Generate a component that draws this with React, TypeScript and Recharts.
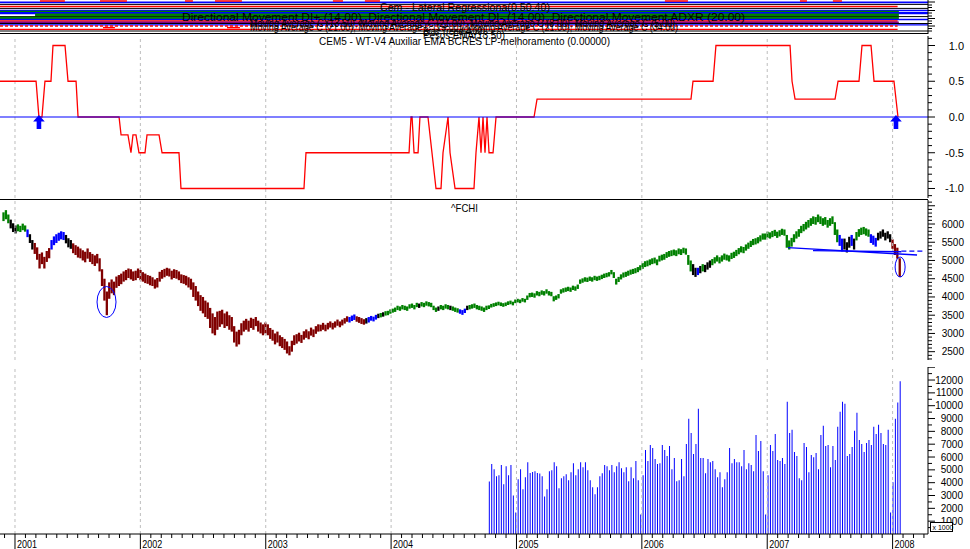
import React from 'react';
import { ComposedChart, Bar, Line, XAxis, YAxis, ReferenceLine, ReferenceDot } from 'recharts';

const FONT = '"Liberation Sans", Arial, Helvetica, sans-serif';
const CHART_W = 970;
const AXIS_W = 42;
const AXIS_X = CHART_W - AXIS_W;
const X_DOMAIN: [number, number] = [2000.8804, 2008.2824];
const WEEK = 7 / 365.25;

// ---------- x axis ----------
const yearTicks = [2001, 2002, 2003, 2004, 2005, 2006, 2007, 2008];
const yearLabels = ['2001', '2002', '2003', '2004', '2005', '2006', '2007', '2008'];

// ---------- ^FCHI weekly bars [low, high] ----------
const PRICE_START = 2000.91;
const priceW2001: [number, number][] = [
  [6080,6320],[6130,6380],[6020,6260],[5880,6120],[5780,6020],[5740,5960],[5800,5990],[5780,5950],[5830,6010],[5790,5960],
  [5640,5850],[5480,5720],[5300,5560],[5180,5480],[5020,5360],[4780,5180],[4900,5220],[4780,5100],[4960,5260],[5060,5340],
  [5300,5560],[5420,5660],[5480,5720],[5540,5760],[5580,5800],[5560,5780],[5470,5700],[5360,5610],[5320,5560],[5200,5470],
  [5150,5420],[5080,5380],[5060,5330],[5000,5280],[4950,5240],[5050,5330],[4960,5230],[4900,5180],[4850,5140],[4920,5180],
  [4700,5060],[4300,4760],[3900,4500],[3500,4150],[3950,4400],[4100,4480],[4050,4420],[4250,4560],[4300,4600],[4350,4640],
  [4420,4700],[4460,4740],[4520,4780],[4480,4760],[4440,4700],[4460,4720],[4520,4780],
];
const priceW2002: [number, number][] = [
  [4460,4740],[4420,4680],[4380,4640],[4360,4600],[4320,4580],[4300,4540],[4230,4480],[4260,4520],[4420,4690],
  [4500,4740],[4540,4770],[4580,4800],[4560,4780],[4480,4720],[4520,4760],[4500,4740],[4460,4700],
  [4380,4620],[4360,4600],[4320,4580],[4260,4540],[4200,4500],
  [4000,4400],[3900,4300],[3750,4150],[3620,4050],[3550,4000],[3450,3900],[3400,3850],
  [3150,3700],[3000,3550],[2950,3450],[3100,3600],[3180,3620],
  [3250,3650],[3150,3550],[3200,3600],[3100,3500],[3050,3450],
  [2750,3200],[2640,3050],[2700,3100],
  [2950,3280],[3050,3350],[3100,3400],[3050,3350],[3150,3430],[3100,3400],[3200,3450],
  [3050,3350],[3000,3300],[2950,3250],
];
const priceW2003: [number, number][] = [
  [3000,3300],
  [2950,3250],[2850,3150],[2800,3100],[2700,3000],[2750,3050],[2650,2950],[2600,2900],[2550,2850],
  [2450,2780],[2400,2650],[2500,2800],
  [2680,2950],[2720,2980],[2780,3020],[2740,2960],[2830,3060],[2880,3110],[2840,3060],[2940,3160],[2900,3110],[2990,3200],
  [3050,3250],[3060,3240],[3100,3290],[3060,3240],[3110,3290],[3160,3330],[3110,3290],[3160,3330],[3210,3380],[3170,3330],[3220,3380],[3270,3420],
  [3320,3470],[3300,3450],[3340,3490],[3370,3520],[3320,3470],[3290,3450],[3260,3420],
  [3240,3390],[3270,3420],[3300,3450],[3350,3480],[3330,3460],[3380,3510],
  [3420,3540],[3440,3560],[3460,3580],[3490,3610],[3500,3620],
];
const priceW2004: [number, number][] = [
  [3540,3660],
  [3570,3680],[3590,3710],[3640,3760],[3620,3740],[3660,3780],[3640,3760],[3620,3740],[3680,3800],[3700,3820],[3660,3780],
  [3720,3840],[3700,3820],[3740,3860],[3720,3840],[3760,3880],[3740,3860],[3720,3840],
  [3640,3760],[3590,3710],[3620,3740],[3660,3780],[3640,3760],[3680,3800],[3660,3780],[3640,3760],[3620,3740],[3590,3710],
  [3570,3690],[3540,3660],[3510,3640],[3560,3680],
  [3640,3760],[3660,3780],[3680,3800],[3700,3820],[3660,3780],[3640,3760],[3620,3740],[3590,3710],[3640,3760],
  [3670,3770],[3710,3810],[3730,3830],[3750,3850],[3770,3870],[3750,3850],[3730,3830],[3750,3850],[3780,3880],[3800,3900],[3770,3870],
];
const priceW2005: [number, number][] = [
  [3830,3930],
  [3850,3950],[3830,3930],[3870,3970],[3850,3950],
  [3920,4040],[3990,4110],[4000,4120],[3980,4100],[4040,4160],[4020,4140],[4060,4180],[4040,4160],[4090,4210],[4040,4160],[4020,4140],
  [3880,4020],[3920,4040],[3960,4080],
  [4090,4210],[4120,4240],[4140,4260],[4160,4280],[4140,4260],[4190,4310],[4170,4290],[4220,4340],
  [4360,4480],[4390,4510],[4420,4540],[4410,4530],[4440,4560],[4420,4540],[4460,4580],
  [4440,4560],[4460,4580],[4490,4610],[4520,4640],[4540,4660],[4560,4680],[4620,4740],[4520,4680],[4340,4500],
  [4410,4550],[4480,4620],[4530,4670],[4550,4690],[4580,4720],[4610,4750],[4630,4770],[4650,4790],[4680,4820],
];
const priceW2006: [number, number][] = [
  [4730,4870],
  [4770,4930],[4820,4980],[4840,5000],[4870,5030],[4900,5060],[4920,5080],[4870,5030],[4970,5130],[5000,5160],[5020,5180],
  [5070,5230],[5100,5260],[5120,5280],[5140,5300],[5120,5280],[5170,5330],[5150,5310],[5200,5350],[5160,5330],
  [4880,5150],[4700,5000],[4600,4900],[4550,4800],[4600,4800],[4650,4850],[4700,4900],[4680,4880],[4750,4950],[4800,5000],
  [4870,5040],[4920,5090],[4970,5140],[4920,5090],[4970,5140],[5020,5190],[5000,5160],[4970,5140],[5040,5210],[5070,5240],
  [5120,5290],[5170,5340],[5220,5390],[5200,5370],[5270,5440],[5320,5490],[5370,5540],[5420,5590],[5440,5610],[5470,5640],[5520,5690],[5570,5740],
];
const priceW2007: [number, number][] = [
  [5570,5740],[5620,5790],[5600,5770],[5640,5810],[5670,5840],[5620,5790],[5660,5830],[5700,5870],[5680,5850],
  [5350,5700],[5300,5550],
  [5380,5620],[5500,5720],[5600,5800],[5650,5860],[5750,5950],[5800,6000],[5850,6060],[5900,6110],
  [5950,6160],[6000,6210],[5980,6190],[6050,6260],[6000,6210],[5950,6160],[5980,6190],[5900,6110],[5950,6160],[6000,6210],
  [5700,6050],[5500,5850],[5400,5700],
  [5250,5600],[5300,5600],[5220,5500],[5350,5650],[5400,5700],[5300,5600],
  [5550,5780],[5650,5860],[5700,5900],[5720,5920],[5680,5880],[5650,5850],
  [5480,5720],[5430,5680],[5380,5620],
  [5550,5760],[5600,5800],[5650,5850],[5550,5760],[5600,5800],[5500,5720],
  [5320,5580],[5150,5450],
  [5050,5350],[4550,5060],
];
// signal state per week: [first week index, state]
const priceStateRuns: [number, string][] = [
  [0,'g'],[3,'k'],[6,'g'],[10,'b'],[11,'k'],[13,'r'],[20,'b'],[26,'k'],[29,'r'],[144,'b'],[147,'r'],[151,'k'],[152,'b'],
  [156,'k'],[157,'g'],[158,'k'],[159,'g'],[173,'k'],[174,'g'],[181,'k'],[182,'g'],[186,'k'],[187,'g'],[190,'b'],[193,'k'],
  [194,'g'],[287,'k'],[289,'b'],[290,'k'],[291,'g'],[292,'k'],[295,'g'],[348,'b'],[350,'k'],[353,'b'],[354,'k'],[355,'g'],
  [361,'b'],[364,'k'],[370,'r'],
];
const STATE_COLORS: Record<string, string> = { g: '#008000', k: '#000000', b: '#0000FF', r: '#800000' };

// ---------- volume (weekly, axis units) ----------
const VOL_START = 2004.781;
const vol2004 = [4100,5450,5050,4500,4580,5370,3870,5290,4580,5370,3000,1680];
const vol2005 = [4270,5050,3480,4420,5600,4760,4840,4900,4760,4710,4500,2930,3480,4900,4970,5600,5290,3560,4350,4500,4660,4190,4820,5520,4580,5050,5600,5210,5600,4970,4190,3640,3090,3640,4500,4740,5370,5290,4970,5370,4820,5290,5600,5130,4820,5210,4110,5210,4350,5680,4190,1520];
const vol2006 = [4580,6540,5680,6940,6700,5840,5450,5520,6940,6540,6070,6860,5050,5920,4110,4190,5840,4500,7020,8980,7880,6230,7020,9760,5920,5920,4740,5840,5600,5680,5050,4420,4820,3640,4270,4820,6700,5520,5840,5600,5600,5290,6540,5050,5520,5370,4900,7720,6470,7250,4900,1520];
const vol2007 = [4580,6940,6470,7800,5760,5680,5920,5450,10300,7880,8120,6390,6070,4350,4190,7090,6780,4820,6150,5990,6310,5050,7720,8430,6860,6940,5210,6860,5760,8350,9530,10300,10160,6070,6230,6780,8040,9450,7330,7020,6390,7090,7330,6940,8350,7800,8510,7880,7020,6940,8120,1680];
const vol2008 = [4030,8980,10240,11900];

// ---------- CEM5 indicator vertices [time, value] ----------
const cemPoints: [number, number][] = [
  [2000.880,0.5],[2001.168,0.5],[2001.191,0],[2001.215,0],[2001.239,0.5],[2001.287,0.5],[2001.303,1],[2001.399,1],
  [2001.423,0.5],[2001.487,0.5],[2001.503,0],[2001.830,0],[2001.846,-0.25],[2001.901,-0.25],[2001.925,-0.5],[2001.941,-0.25],
  [2001.965,-0.25],[2001.989,-0.5],[2002.037,-0.5],[2002.053,-0.25],[2002.149,-0.25],[2002.173,-0.5],[2002.308,-0.5],[2002.324,-1],
  [2003.305,-1],[2003.321,-0.5],[2004.143,-0.5],[2004.159,0],[2004.167,0],[2004.183,-0.5],[2004.215,-0.5],[2004.230,0],
  [2004.294,0],[2004.326,-0.5],[2004.358,-1],[2004.398,-1],[2004.414,-0.5],[2004.454,0],[2004.470,-0.5],[2004.510,-1],
  [2004.661,-1],[2004.677,-0.5],[2004.701,0],[2004.717,-0.5],[2004.733,0],[2004.749,-0.5],[2004.765,0],[2004.781,-0.5],
  [2004.813,-0.5],[2004.837,0],[2005.140,0],[2005.164,0.25],[2006.392,0.25],[2006.408,0.5],[2006.568,0.5],[2006.591,1],
  [2007.182,1],[2007.198,0.5],[2007.222,0.25],[2007.541,0.25],[2007.565,0.5],[2007.732,0.5],[2007.756,1],[2007.828,1],
  [2007.852,0.5],[2008.011,0.5],[2008.043,0],
];
const cemTickValues = [-1, -0.5, 0, 0.5, 1];
const cemTickLabels = ['-1.0', '-0.5', '0.0', '0.5', '1.0'];
const signalArrows = [2001.191, 2008.027];

// ---------- price annotations ----------
const priceEllipses = [
  { t: 2001.730, p: 3862, rx: 9.5, ry: 15.5 },
  { t: 2008.060, p: 4821, rx: 5, ry: 10 },
];
const trendLines = [
  { a: [2007.166, 5350], b: [2008.195, 5150], dash: '' },
  { a: [2007.365, 5268], b: [2008.070, 5240], dash: '' },
  { a: [2008.070, 5255], b: [2008.262, 5258], dash: '5 3' },
];

// ---------- top overlay panel (compressed indicator lines) ----------
const X0 = X_DOMAIN[0];
const X1 = X_DOMAIN[1];
const overlayLines = [
  { lvl: 2.4, c: '#0000FF', w: 1.8, a: X0, b: X1, d: '' },
  { lvl: 4.4, c: '#000000', w: 1, a: X0, b: X1, d: '' },
  { lvl: 6.4, c: '#FF0000', w: 1.5, a: X0, b: 2008.04, d: '' },
  { lvl: 8.4, c: '#000000', w: 1, a: X0, b: X1, d: '' },
  { lvl: 10.4, c: '#0000FF', w: 1.5, a: X0, b: X1, d: '' },
  { lvl: 11.8, c: '#008000', w: 2, a: X0, b: 2008.05, d: '' },
  { lvl: 13.1, c: '#0000FF', w: 2.2, a: X0, b: X1, d: '' },
  { lvl: 15.0, c: '#008000', w: 3, a: 2001.16, b: 2008.05, d: '' },
  { lvl: 16.6, c: '#000000', w: 1, a: X0, b: X1, d: '' },
  { lvl: 18.0, c: '#008000', w: 2.4, a: X0, b: 2008.05, d: '' },
  { lvl: 19.5, c: '#0000FF', w: 1.5, a: X0, b: X1, d: '' },
  { lvl: 21.0, c: '#FF0000', w: 1.3, a: X0, b: 2008.04, d: '' },
  { lvl: 22.3, c: '#800080', w: 1.5, a: X0, b: 2008.05, d: '' },
  { lvl: 23.5, c: '#000000', w: 1, a: X0, b: X1, d: '' },
  { lvl: 24.8, c: '#0000FF', w: 1.3, a: X0, b: X1, d: '' },
  { lvl: 26.0, c: '#FF0000', w: 1.3, a: X0, b: 2008.04, d: '3 2' },
  { lvl: 29.4, c: '#FF0000', w: 1.3, a: X0, b: 2008.04, d: '' },
  { lvl: 31.0, c: '#000000', w: 1, a: X0, b: X1, d: '' },
];
const overlaySegments = [
  { lvl: 1.0, a: 2000.880, b: 2000.936 }, { lvl: 1.0, a: 2001.199, b: 2001.398 }, { lvl: 1.0, a: 2001.678, b: 2001.893 },
  { lvl: 1.0, a: 2002.356, b: 2002.419 }, { lvl: 1.0, a: 2002.595, b: 2002.810 }, { lvl: 1.0, a: 2003.536, b: 2003.616 },
  { lvl: 1.0, a: 2003.791, b: 2003.911 }, { lvl: 1.0, a: 2006.184, b: 2006.368 }, { lvl: 1.0, a: 2007.261, b: 2007.317 },
  { lvl: 1.0, a: 2007.524, b: 2007.596 }, { lvl: 27.6, a: 2001.702, b: 2001.797 }, { lvl: 27.6, a: 2002.691, b: 2002.794 },
];
const topTicks = [2, 5, 7.5, 10.5, 13, 16, 18.5, 21, 23.5, 26, 28.5, 31];

// ---------- rows ----------
const priceWeeks = [...priceW2001, ...priceW2002, ...priceW2003, ...priceW2004, ...priceW2005, ...priceW2006, ...priceW2007];
const stateAt = (i: number) => {
  let s = 'g';
  for (const [start, st] of priceStateRuns) if (i >= start) s = st;
  return s;
};
const priceRows = priceWeeks.map((r, i) => ({ t: PRICE_START + i * WEEK, range: r, state: stateAt(i) }));
const volWeeks = [...vol2004, ...vol2005, ...vol2006, ...vol2007, ...vol2008];
const volRows = volWeeks.map((v, i) => ({ t: VOL_START + i * WEEK, v }));
const cemRows = cemPoints.map(([t, v]) => ({ t, v }));
const topRows = [{ t: X0 }, { t: X1 }];

const priceTicks: number[] = [];
for (let v = 2300; v <= 6600; v += 100) priceTicks.push(v);
const volTicks: number[] = [];
for (let v = 500; v <= 13000; v += 500) volTicks.push(v);
const cemTicks: number[] = [];
for (let k = -11; k <= 11; k++) cemTicks.push(k / 10);
const monthTicks: number[] = [];
for (let y = 2000; y <= 2008; y++) for (let m = 0; m < 12; m++) {
  const t = y + m / 12;
  if (t >= X0 && t <= X1) monthTicks.push(t);
}

// ---------- tick renderers ----------
const tickLine = (y: number, len: number) => (
  <line x1={AXIS_X} x2={AXIS_X + len} y1={y} y2={y} stroke="#000" strokeWidth={1} />
);
const PriceTick = (p: any) => {
  const v = p.payload.value;
  const major = v % 500 === 0;
  return (
    <g>
      {tickLine(p.y, major ? 7 : 4)}
      {major && v >= 2500 && v <= 6000 && (
        <text x={964} y={p.y + 3.5} textAnchor="end" fontSize={10} fontFamily={FONT} fill="#000">{v}</text>
      )}
    </g>
  );
};
const VolTick = (p: any) => {
  const v = p.payload.value;
  const major = v % 1000 === 0;
  return (
    <g>
      {tickLine(p.y, major ? 7 : 4)}
      {major && v <= 12000 && (
        <text x={963} y={p.y + 3.5} textAnchor="end" fontSize={10} fontFamily={FONT} fill="#000">{v}</text>
      )}
    </g>
  );
};
const CemTick = (p: any) => {
  const v = p.payload.value;
  const idx = cemTickValues.findIndex((c) => Math.abs(c - v) < 1e-6);
  return (
    <g>
      {tickLine(p.y, idx >= 0 ? 7 : 4)}
      {idx >= 0 && (
        <text x={964} y={p.y + 4} textAnchor="end" fontSize={11} fontFamily={FONT} fill="#000">{cemTickLabels[idx]}</text>
      )}
    </g>
  );
};
const TopTick = (p: any) => {
  const i = topTicks.indexOf(p.payload.value);
  return tickLine(p.y, i % 3 === 0 ? 7 : 4);
};
const VOL_AXIS_Y = 167;
const XTick = (p: any) => {
  const v = p.payload.value;
  const yi = yearTicks.findIndex((y) => Math.abs(y - v) < 1e-6);
  const x = p.x;
  return (
    <g>
      <line x1={x} x2={x} y1={VOL_AXIS_Y} y2={yi >= 0 ? VOL_AXIS_Y + 15 : VOL_AXIS_Y + 4} stroke="#000" strokeWidth={1} />
      {yi >= 0 && (
        <text x={x + 2} y={VOL_AXIS_Y + 13.5} fontSize={10} fontFamily={FONT} fill="#000" textLength={20} lengthAdjust="spacingAndGlyphs">
          {yearLabels[yi]}
        </text>
      )}
    </g>
  );
};

// ---------- shapes ----------
const PriceBarShape = (p: any) => {
  const cx = p.x + p.width / 2;
  return <rect x={cx - 1.15} y={p.y} width={2.3} height={Math.max(p.height, 1)} fill={STATE_COLORS[p.payload.state]} />;
};
const ArrowShape = (p: any) => {
  const { cx, cy } = p;
  const d = `M${cx},${cy - 2} L${cx + 5.8},${cy + 4.5} L${cx + 2.3},${cy + 4.5} L${cx + 2.3},${cy + 12} L${cx - 2.3},${cy + 12} L${cx - 2.3},${cy + 4.5} L${cx - 5.8},${cy + 4.5} Z`;
  return <path d={d} fill="#0000FF" />;
};
const makeEllipse = (rx: number, ry: number) => (p: any) => (
  <ellipse cx={p.cx} cy={p.cy} rx={rx} ry={ry} fill="none" stroke="#0000FF" strokeWidth={1} />
);

const gridLines = () =>
  yearTicks.map((y) => <ReferenceLine key={'g' + y} x={y} stroke="#BDBDBD" strokeDasharray="3 3" strokeWidth={1} />);

const hiddenX = <XAxis type="number" dataKey="t" domain={X_DOMAIN} hide allowDataOverflow />;

const abs = (top: number): React.CSSProperties => ({ position: 'absolute', left: 0, top });

export default function App() {
  return (
    <div style={{ position: 'absolute', left: 0, top: 0, width: 970, height: 549, background: '#fff', overflow: 'hidden' }}>
      {/* top overlay panel */}
      <div style={abs(0)}>
        <ComposedChart width={CHART_W} height={34} data={topRows} margin={{ top: 0, right: 0, bottom: 0, left: 0 }}>
          {hiddenX}
          <YAxis orientation="right" type="number" width={AXIS_W} domain={[0, 34]} reversed ticks={topTicks}
            tick={TopTick} tickLine={false} axisLine={{ stroke: '#000' }} interval={0} allowDataOverflow />
          {overlayLines.map((l, i) => (
            <ReferenceLine key={'o' + i} segment={[{ x: l.a, y: l.lvl }, { x: l.b, y: l.lvl }]} stroke={l.c}
              strokeWidth={l.w} strokeDasharray={l.d || undefined} />
          ))}
          {overlaySegments.map((s, i) => (
            <ReferenceLine key={'s' + i} segment={[{ x: s.a, y: s.lvl }, { x: s.b, y: s.lvl }]} stroke="#FF0000" strokeWidth={1.5} />
          ))}
        </ComposedChart>
      </div>

      {/* CEM5 indicator */}
      <div style={abs(34)}>
        <ComposedChart width={CHART_W} height={165} data={cemRows} margin={{ top: 2, right: 0, bottom: 1, left: 0 }}>
          {hiddenX}
          <YAxis orientation="right" type="number" width={AXIS_W} domain={[-1.1329, 1.1329]} ticks={cemTicks}
            tick={CemTick} tickLine={false} axisLine={{ stroke: '#000' }} interval={0} allowDataOverflow />
          {gridLines()}
          <Line dataKey="v" type="linear" stroke="#FF0000" strokeWidth={1.3} dot={false} isAnimationActive={false} />
          <ReferenceLine y={0} stroke="#0000FF" strokeWidth={1.2} />
          {signalArrows.map((t, i) => (
            <ReferenceDot key={'a' + i} x={t} y={0} r={5} shape={ArrowShape} />
          ))}
        </ComposedChart>
      </div>

      {/* price */}
      <div style={abs(200)}>
        <ComposedChart width={CHART_W} height={160} data={priceRows} margin={{ top: 0, right: 0, bottom: 0, left: 0 }}>
          {hiddenX}
          <YAxis orientation="right" type="number" width={AXIS_W} domain={[2272, 6658]} ticks={priceTicks}
            tick={PriceTick} tickLine={false} axisLine={{ stroke: '#000' }} interval={0} allowDataOverflow />
          {gridLines()}
          <Bar dataKey="range" barSize={2} shape={PriceBarShape} isAnimationActive={false} />
          {trendLines.map((l, i) => (
            <ReferenceLine key={'tl' + i} segment={[{ x: l.a[0], y: l.a[1] }, { x: l.b[0], y: l.b[1] }]} stroke="#0000FF"
              strokeWidth={1.3} strokeDasharray={l.dash || undefined} />
          ))}
          {priceEllipses.map((e, i) => (
            <ReferenceDot key={'e' + i} x={e.t} y={e.p} r={e.rx} shape={makeEllipse(e.rx, e.ry)} />
          ))}
        </ComposedChart>
      </div>

      {/* volume + time axis */}
      <div style={abs(367)}>
        <ComposedChart width={CHART_W} height={182} data={volRows} margin={{ top: 0, right: 0, bottom: 0, left: 0 }}>
          <XAxis type="number" dataKey="t" domain={X_DOMAIN} ticks={monthTicks} tick={XTick} tickLine={false}
            axisLine={{ stroke: '#000' }} height={15} interval={0} allowDataOverflow />
          <YAxis orientation="right" type="number" width={AXIS_W} domain={[0, 13016]} ticks={volTicks}
            tick={VolTick} tickLine={false} axisLine={{ stroke: '#000' }} interval={0} allowDataOverflow />
          {gridLines()}
          <Bar dataKey="v" fill="#0000FF" barSize={1} isAnimationActive={false} />
        </ComposedChart>
      </div>

      {/* titles, legends and panel frames */}
      <svg width={970} height={549} style={{ position: 'absolute', left: 0, top: 0, pointerEvents: 'none' }}>
        <line x1={0} x2={AXIS_X} y1={33.5} y2={33.5} stroke="#000" strokeWidth={1.2} />
        <line x1={0} x2={AXIS_X} y1={199.5} y2={199.5} stroke="#000" strokeWidth={1} />
        <g fontFamily={FONT} fontSize={11} fill="#000">
          <text x={380} y={11} textLength={170} lengthAdjust="spacingAndGlyphs">Cem - Lateral Regressiona(0.50.40)</text>
          <text x={182} y={20.5} textLength={563} lengthAdjust="spacingAndGlyphs">
            Directional Movement DI+ (14.00), Directional Movement DI- (14.00), Directional Movement ADXR (20.00)
          </text>
          <text x={250} y={26.5} textLength={425} lengthAdjust="spacingAndGlyphs">
            Moving Average C (13.50), Moving Average C (21.00), Moving Average C (8.00), Moving Average C (5.00)
          </text>
          <text x={250} y={31} textLength={428} lengthAdjust="spacingAndGlyphs">
            Moving Average C (21.00), Moving Average C (13.00), Moving Average C (21.00), Moving Average C (34.00)
          </text>
          <text x={423} y={35} textLength={62} lengthAdjust="spacingAndGlyphs">Bias Trend(4.00)</text>
          <text x={423} y={38.5} textLength={82} lengthAdjust="spacingAndGlyphs">Pesos EMA(13.50)</text>
          <text x={319} y={45} textLength={291} lengthAdjust="spacingAndGlyphs">
            CEM5 - WT-V4 Auxiliar EMA BCRES LP-melhoramento (0.00000)
          </text>
          <text x={451} y={212} textLength={27} lengthAdjust="spacingAndGlyphs">^FCHI</text>
        </g>
        <rect x={930.5} y={522.5} width={22} height={9} fill="#fff" stroke="#000" strokeWidth={1} />
        <text x={932.5} y={530} fontFamily={FONT} fontSize={7} fill="#000">x 1000</text>
      </svg>
    </div>
  );
}
